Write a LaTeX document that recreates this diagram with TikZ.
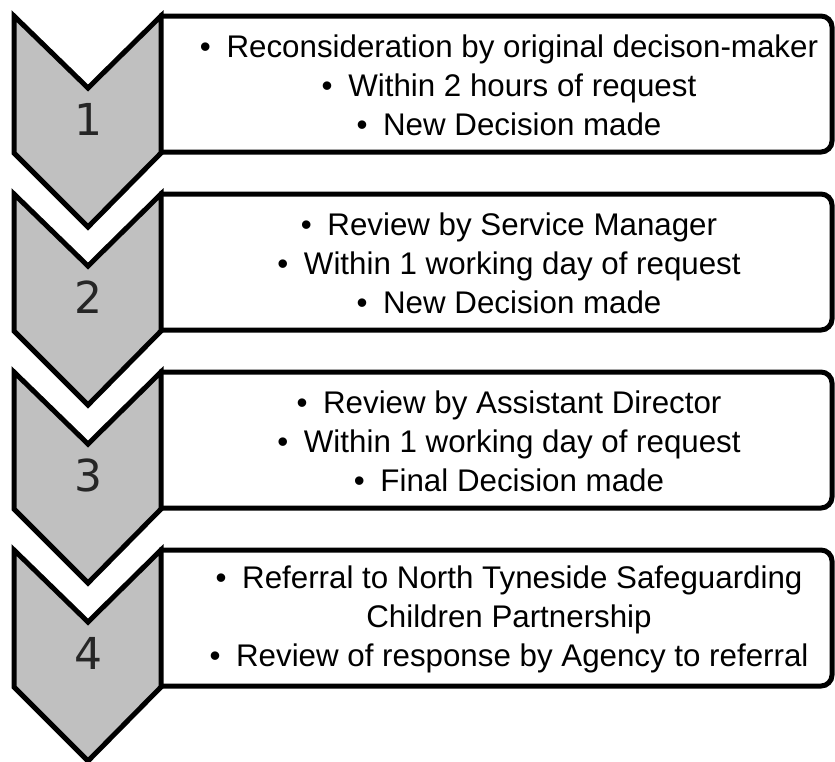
\documentclass[tikz,border=0pt]{standalone}
\usepackage{fontspec}
\setmainfont{Liberation Sans}
\newfontfamily\numfont{DejaVu Sans}
\definecolor{chevgray}{HTML}{C0C0C0}
\definecolor{numgray}{HTML}{262626}
\newcommand{\bul}{\textbullet\hspace{0.5em}}
\begin{document}
\begin{tikzpicture}[x=1pt,y=-1pt,
  chevron/.style={draw=black,line width=5pt,fill=chevgray,line join=miter},
  stepcard/.style={draw=black,line width=5pt,fill=white,rounded corners=11pt},
  steptext/.style={align=center,inner sep=0pt,font=\fontsize{31.3}{39}\selectfont},
  stepnum/.style={inner sep=0pt,text=numgray,font=\numfont\fontsize{44}{44}\selectfont}]
\useasboundingbox (0,0) rectangle (835,761);

% one row: chevron marker with its number, plus the description card
\foreach \i/\T/\txt in {
  1/16/{\bul Reconsideration by original decison-maker\\\bul Within 2 hours of request\\\bul New Decision made},
  2/194/{\bul Review by Service Manager\\\bul Within 1 working day of request\\\bul New Decision made},
  3/372/{\bul Review by Assistant Director\\\bul Within 1 working day of request\\\bul Final Decision made},
  4/550/{\bul Referral to North Tyneside Safeguarding\\Children Partnership\\\bul Review of response by Agency to referral}}{
  % card: left corners hidden under the chevron edge
  \begin{scope}
    \clip (159,\T-10) rectangle (840,\T+150);
    \draw[stepcard] (130,\T) rectangle (832,\T+136);
  \end{scope}
  \draw[chevron] (14,\T) -- (88,\T+72) -- (161,\T) -- (161,\T+137)
    -- (88,\T+211) -- (14,\T+137) -- cycle;
  \node[stepnum] (step\i num) at (88,\T+103) {\i};
  \node[steptext] (step\i text) at (509,\T+69) {\txt};
}
\end{tikzpicture}
\end{document}
